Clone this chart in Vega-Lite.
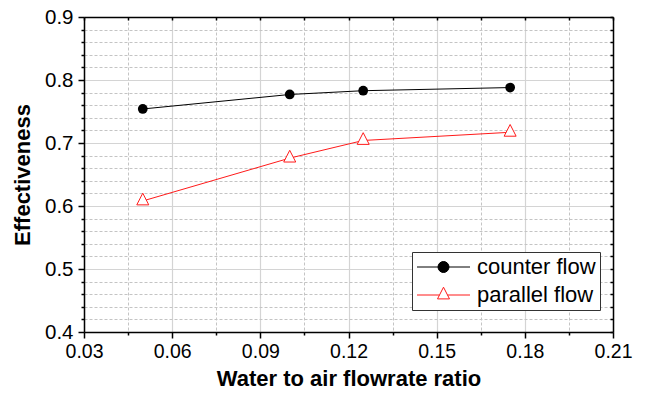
{
  "$schema": "https://vega.github.io/schema/vega-lite/v6.json",
  "width": 529,
  "height": 315,
  "autosize": {"type": "none"},
  "padding": {"left": 84, "top": 17, "right": 32, "bottom": 62},
  "background": "white",
  "config": {
    "font": "Liberation Sans",
    "view": {"stroke": null},
    "axis": {"labelColor": "black", "titleColor": "black", "tickColor": "black", "domainColor": "black", "labelFont": "Liberation Sans", "titleFont": "Liberation Sans", "labelFlush": false}
  },
  "data": {
    "values": [
      {"ratio": 0.05, "eff": 0.754, "series": "counter flow"},
      {"ratio": 0.1, "eff": 0.777, "series": "counter flow"},
      {"ratio": 0.125, "eff": 0.783, "series": "counter flow"},
      {"ratio": 0.175, "eff": 0.788, "series": "counter flow"},
      {"ratio": 0.05, "eff": 0.608, "series": "parallel flow"},
      {"ratio": 0.1, "eff": 0.676, "series": "parallel flow"},
      {"ratio": 0.125, "eff": 0.704, "series": "parallel flow"},
      {"ratio": 0.175, "eff": 0.717, "series": "parallel flow"}
    ]
  },
  "resolve": {"axis": {"x": "independent", "y": "independent"}},
  "layer": [
    {
      "mark": {"type": "line", "strokeWidth": 1},
      "encoding": {
        "x": {
          "field": "ratio", "type": "quantitative",
          "scale": {"domain": [0.03, 0.21], "nice": false, "zero": false},
          "axis": {
            "orient": "bottom",
            "values": [0.03, 0.06, 0.09, 0.12, 0.15, 0.18, 0.21],
            "format": ".2f", "labelFlush": false, "labelOverlap": false,
            "labelFontSize": 19.5, "labelPadding": 4,
            "tickSize": 6, "tickWidth": 1.5, "domainWidth": 1.5,
            "grid": true, "gridColor": "#d4d4d4", "gridWidth": 1.2,
            "title": "Water to air flowrate ratio",
            "titleFontSize": 22, "titleFontWeight": "bold", "titlePadding": 8
          }
        },
        "y": {
          "field": "eff", "type": "quantitative",
          "scale": {"domain": [0.4, 0.9], "nice": false, "zero": false},
          "axis": {
            "orient": "left",
            "values": [0.4, 0.5, 0.6, 0.7, 0.8, 0.9],
            "format": ".1f", "labelFlush": false, "labelOverlap": false,
            "labelFontSize": 20.5, "labelPadding": 5,
            "tickSize": 6, "tickWidth": 1.5, "domainWidth": 1.5,
            "grid": true, "gridColor": "#d4d4d4", "gridWidth": 1.2,
            "title": "Effectiveness",
            "titleFontSize": 22, "titleFontWeight": "bold", "titlePadding": 10
          }
        },
        "color": {
          "field": "series", "type": "nominal",
          "scale": {"domain": ["counter flow", "parallel flow"], "range": ["black", "#ff1a1a"]},
          "legend": {
            "orient": "none", "legendX": 328, "legendY": 235,
            "title": null,
            "labelFontSize": 22, "labelFont": "Liberation Sans", "labelColor": "black",
            "symbolSize": 400, "labelOffset": 39, "rowPadding": 6,
            "padding": 4, "strokeColor": "#333333", "fillColor": "white",
            "symbolStrokeWidth": 1,
            "encoding": {
              "symbols": {
                "shape": {"condition": {"test": "datum.value === 'counter flow'", "value": "M-1,0H4.3M1.1,0A0.55,0.55,0,1,1,2.2,0A0.55,0.55,0,1,1,1.1,0Z"}, "value": "M-1,0H1.25M2.05,0H4.3M1.65,-0.78L2.25,0.39L1.05,0.39Z"},
                "fill": {"condition": {"test": "datum.value === 'counter flow'", "value": "black"}, "value": "white"},
                "stroke": {"condition": {"test": "datum.value === 'counter flow'", "value": "black"}, "value": "#ff1a1a"},
                "opacity": {"value": 1}
              }
            }
          }
        }
      }
    },
    {
      "transform": [{"filter": "datum.series === 'counter flow'"}],
      "mark": {"type": "point", "shape": "circle", "filled": true, "color": "black", "size": 95, "opacity": 1},
      "encoding": {
        "x": {
          "field": "ratio", "type": "quantitative",
          "axis": {
            "orient": "bottom",
            "values": [0.045, 0.075, 0.105, 0.135, 0.165, 0.195],
            "labels": false, "domain": false,
            "tickSize": 3, "tickWidth": 1.5,
            "grid": true, "gridColor": "#c4c4c4", "gridDash": [3, 2], "gridWidth": 1,
            "title": null
          }
        },
        "y": {
          "field": "eff", "type": "quantitative",
          "axis": {
            "orient": "left",
            "values": [0.42, 0.44, 0.46, 0.48, 0.52, 0.54, 0.56, 0.58, 0.62, 0.64, 0.66, 0.68, 0.72, 0.74, 0.76, 0.78, 0.82, 0.84, 0.86, 0.88],
            "labels": false, "domain": false,
            "tickSize": 3, "tickWidth": 1.5,
            "grid": true, "gridColor": "#c4c4c4", "gridDash": [3, 2], "gridWidth": 1,
            "title": null
          }
        }
      }
    },
    {
      "transform": [{"filter": "datum.series === 'parallel flow'"}],
      "mark": {"type": "point", "shape": "M0,-0.78L0.6,0.39L-0.6,0.39Z", "filled": true, "fill": "white", "stroke": "#ff1a1a", "strokeWidth": 1, "size": 400, "opacity": 1},
      "encoding": {
        "x": {
          "field": "ratio", "type": "quantitative",
          "axis": {
            "orient": "top",
            "values": [0.03, 0.045, 0.06, 0.075, 0.09, 0.105, 0.12, 0.135, 0.15, 0.165, 0.18, 0.195, 0.21],
            "labels": false, "domain": true, "domainWidth": 1.5,
            "tickSize": -3, "tickWidth": 1.5,
            "grid": false, "title": null
          }
        },
        "y": {
          "field": "eff", "type": "quantitative",
          "axis": {
            "orient": "right",
            "values": [0.4, 0.42, 0.44, 0.46, 0.48, 0.5, 0.52, 0.54, 0.56, 0.58, 0.6, 0.62, 0.64, 0.66, 0.68, 0.7, 0.72, 0.74, 0.76, 0.78, 0.8, 0.82, 0.84, 0.86, 0.88, 0.9],
            "labels": false, "domain": true, "domainWidth": 1.5,
            "tickSize": -3, "tickWidth": 1.5,
            "grid": false, "title": null
          }
        }
      }
    }
  ]
}
